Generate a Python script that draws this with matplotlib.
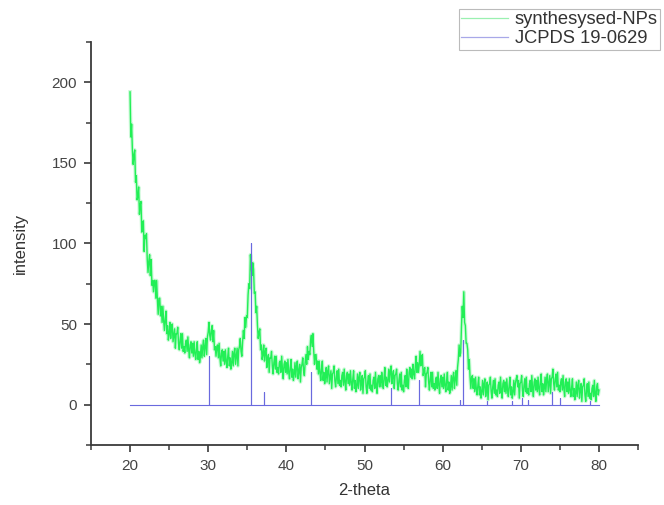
import numpy as np
import matplotlib
matplotlib.use("Agg")
import matplotlib.pyplot as plt
from matplotlib.ticker import MultipleLocator

plt.rcParams["font.family"] = ["Liberation Sans", "DejaVu Sans"]

# 2-theta grid of the measured pattern (0.1 deg step)
theta_start, theta_stop, theta_step = 20.0, 80.0, 0.1

intensity = [
    194, 166, 174, 158, 149, 155, 158, 138, 142, 127,   # 20
    129, 135, 118, 124, 126, 107, 111, 114, 95, 105,    # 21
    103, 106, 90, 82, 89, 93, 80, 90, 74, 77,           # 22
    70, 77, 77, 66, 77, 65, 56, 66, 66, 55,             # 23
    61, 51, 61, 52, 46, 53, 58, 44, 49, 40,             # 24
    44, 51, 41, 48, 50, 39, 43, 47, 35, 44,             # 25
    44, 48, 38, 34, 40, 44, 35, 44, 33, 36,             # 26
    32, 38, 40, 33, 42, 34, 29, 37, 39, 32,             # 27
    38, 30, 39, 32, 28, 34, 39, 28, 33, 26,             # 28
    30, 37, 29, 36, 40, 30, 36, 41, 31, 42,             # 29
    45, 51, 43, 40, 46, 49, 39, 46, 34, 36,             # 30
    30, 36, 37, 29, 38, 29, 24, 32, 34, 27,             # 31
    33, 25, 34, 27, 23, 30, 35, 24, 29, 22,             # 32
    26, 33, 24, 32, 35, 25, 30, 35, 24, 34,             # 33
    36, 41, 33, 30, 39, 46, 41, 54, 48, 55,             # 34
    54, 68, 75, 72, 93, 86, 80, 88, 84, 69,             # 35
    70, 57, 61, 49, 41, 45, 47, 34, 37, 28,             # 36
    31, 37, 27, 33, 35, 23, 28, 31, 20, 29,             # 37
    29, 33, 24, 19, 26, 30, 22, 30, 20, 23,             # 38
    19, 26, 27, 20, 30, 22, 16, 25, 27, 20,             # 39
    26, 19, 28, 20, 16, 23, 28, 17, 22, 15,             # 40
    19, 26, 17, 24, 27, 16, 21, 25, 14, 23,             # 41
    25, 29, 21, 18, 26, 31, 25, 36, 28, 33,             # 42
    31, 40, 43, 36, 44, 33, 25, 31, 31, 22,             # 43
    27, 19, 27, 20, 15, 22, 27, 15, 20, 13,             # 44
    17, 23, 14, 21, 24, 13, 17, 21, 10, 19,             # 45
    20, 24, 15, 11, 17, 21, 13, 22, 12, 15,             # 46
    11, 18, 20, 12, 22, 14, 9, 18, 20, 13,              # 47
    19, 12, 21, 14, 9, 16, 21, 10, 15, 8,               # 48
    12, 19, 10, 17, 20, 9, 14, 18, 7, 16,               # 49
    17, 21, 11, 7, 14, 18, 10, 19, 9, 12,               # 50
    8, 15, 17, 10, 20, 12, 7, 16, 18, 11,               # 51
    18, 11, 20, 14, 10, 17, 23, 12, 17, 11,             # 52
    15, 22, 14, 21, 24, 13, 18, 21, 10, 18,             # 53
    19, 22, 13, 9, 15, 19, 11, 20, 9, 12,               # 54
    8, 15, 18, 11, 22, 14, 10, 20, 23, 17,              # 55
    22, 16, 25, 19, 16, 24, 30, 20, 26, 20,             # 56
    25, 33, 24, 30, 31, 18, 21, 23, 11, 19,             # 57
    20, 23, 14, 9, 16, 20, 11, 20, 10, 13,              # 58
    9, 16, 17, 10, 20, 12, 7, 16, 18, 11,               # 59
    17, 10, 19, 12, 8, 15, 20, 9, 14, 7,                # 60
    11, 18, 9, 17, 20, 10, 16, 21, 12, 23,              # 61
    28, 37, 30, 32, 48, 61, 54, 70, 51, 49,             # 62
    38, 38, 34, 22, 28, 17, 10, 17, 18, 10,             # 63
    16, 8, 17, 10, 6, 12, 17, 6, 11, 4,                 # 64
    8, 15, 6, 13, 16, 5, 10, 14, 3, 12,                 # 65
    13, 17, 8, 4, 11, 15, 7, 16, 6, 9,                  # 66
    5, 12, 14, 7, 17, 9, 4, 13, 15, 8,                  # 67
    14, 7, 16, 9, 5, 12, 17, 6, 11, 4,                  # 68
    8, 15, 6, 13, 16, 18, 11, 15, 4, 13,                # 69
    14, 18, 9, 5, 12, 16, 8, 17, 7, 10,                 # 70
    6, 13, 15, 8, 18, 10, 5, 14, 16, 9,                 # 71
    15, 8, 17, 10, 6, 14, 19, 8, 13, 6,                 # 72
    10, 17, 8, 16, 19, 8, 13, 18, 7, 16,                # 73
    17, 22, 13, 9, 16, 19, 11, 20, 9, 12,               # 74
    8, 14, 16, 9, 18, 10, 5, 14, 16, 8,                 # 75
    14, 7, 16, 9, 5, 11, 16, 5, 10, 3,                  # 76
    7, 14, 5, 12, 15, 4, 9, 13, 2, 11,                  # 77
    12, 16, 6, 2, 9, 13, 5, 14, 4, 7,                   # 78
    3, 10, 12, 5, 15, 7, 2, 11, 13, 6,                  # 79
    9,                                                  # 80
]

# JCPDS 19-0629 reference lines
ref_pos = [30.1, 35.45, 37.1, 43.1, 53.4, 57.0, 62.2, 62.6, 65.7, 68.9,
           70.2, 70.9, 74.0, 75.0, 78.9]
ref_int = [30, 100, 8, 20, 10, 15, 3, 40, 2, 2, 4, 3, 8, 4, 2]

theta = np.round(np.arange(theta_start, theta_stop + theta_step / 2,
                           theta_step), 2)

# stick pattern path built from the reference data
sx, sy = [theta_start], [0.0]
for p, h in zip(ref_pos, ref_int):
    sx += [p, p, p]
    sy += [0.0, h, 0.0]
sx.append(theta_stop)
sy.append(0.0)

fig = plt.figure(figsize=(6.64, 5.05), dpi=100)
ax = fig.add_axes([0.137, 0.119, 0.824, 0.798])

# pale fringe + bright core of the noisy pattern
ax.plot(theta, intensity, color="#a6f5bb", lw=2.6, alpha=0.6, zorder=2)
l1, = ax.plot(theta, intensity, color="#10ee48", lw=1.0, alpha=0.9,
              label="synthesysed-NPs", zorder=3)
l2, = ax.plot(sx, sy, color="#6a6ade", lw=0.8, label="JCPDS 19-0629",
              zorder=4)

ax.set_xlim(15, 85)
ax.set_ylim(-25, 225)
ax.xaxis.set_major_locator(MultipleLocator(10))
ax.xaxis.set_minor_locator(MultipleLocator(5))
ax.yaxis.set_major_locator(MultipleLocator(50))
ax.yaxis.set_minor_locator(MultipleLocator(25))
ax.set_xticks([20, 30, 40, 50, 60, 70, 80])

for s in ("top", "right"):
    ax.spines[s].set_visible(False)
for s in ("left", "bottom"):
    ax.spines[s].set_color("#3a3a3a")
    ax.spines[s].set_linewidth(1.3)

ax.tick_params(which="major", direction="out", length=5, width=1.2,
               color="#3a3a3a", labelsize=11, labelcolor="#444444", pad=5)
ax.tick_params(which="minor", direction="out", length=3.5, width=1.1,
               color="#3a3a3a")

ax.set_xlabel("2-theta", fontsize=12, color="#333333", labelpad=7)
ax.set_ylabel("intensity", fontsize=12, color="#333333", labelpad=17)

leg = fig.legend(handles=[l1, l2], loc="upper right",
                 bbox_to_anchor=(0.994, 0.982), fontsize=13.2,
                 frameon=True, fancybox=False, borderpad=0.12,
                 handlelength=2.6, labelspacing=0.12, handletextpad=0.35,
                 borderaxespad=0.0)
leg.get_frame().set_edgecolor("#aaaaaa")
leg.get_frame().set_linewidth(0.8)
for t in leg.get_texts():
    t.set_color("#333333")
leg.legend_handles[0].set_color("#9af0b0")
leg.legend_handles[0].set_alpha(1)
leg.legend_handles[0].set_linewidth(0.9)
leg.legend_handles[1].set_color("#a8a8e8")
leg.legend_handles[1].set_linewidth(0.9)

fig.savefig("out.png", dpi=100)
